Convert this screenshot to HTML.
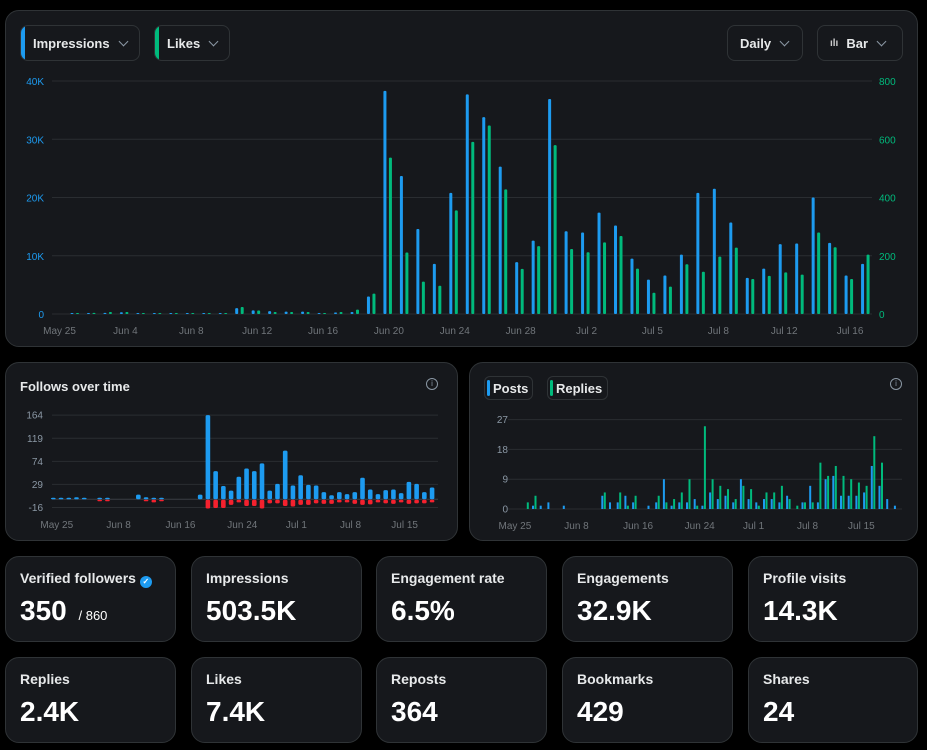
<!DOCTYPE html>
<html><head><meta charset="utf-8">
<style>
*{box-sizing:border-box;margin:0;padding:0}
body{width:927px;height:750px;background:#000;font-family:"Liberation Sans",sans-serif;color:#e7e9ea;position:relative;overflow:hidden}
.card{position:absolute;background:#16181c;border:1px solid #2f3336;border-radius:14px}
.btn{position:absolute;height:36px;border:1px solid #2f3336;border-radius:8px;font-size:13px;font-weight:bold;color:#e7e9ea;display:flex;align-items:center;padding-left:12px;overflow:hidden}
.btn .bar{position:absolute;left:0;top:0;bottom:0;width:4px;border-radius:8px 0 0 8px}
.chev{display:inline-block;width:7px;height:7px;border-right:1.2px solid #8b98a5;border-bottom:1.2px solid #8b98a5;transform:rotate(45deg);margin-left:10px;margin-top:-4px}
.stat .lab{position:absolute;left:14px;top:13px;font-size:14px;font-weight:bold;color:#e7e9ea}
.stat .val{position:absolute;left:14px;top:38px;font-size:28px;font-weight:bold;color:#fff}
.tb{position:absolute;height:24px;border:1px solid #2f3336;border-radius:6px;font-size:13px;font-weight:bold;padding-left:8px;display:flex;align-items:center}
.tb .bar{position:absolute;left:2px;top:3px;bottom:3px;width:3px;border-radius:2px}
svg{position:absolute;left:0;top:0}
</style></head><body>
<div class="card" style="left:5px;top:10px;width:913px;height:337px"></div>
<div class="card" style="left:5px;top:362px;width:453px;height:179px"></div>
<div class="card" style="left:469px;top:362px;width:449px;height:179px"></div>

<div class="btn" style="left:20px;top:25px;width:120px"><span class="bar" style="background:#1d9bf0"></span>Impressions<span class="chev"></span></div>
<div class="btn" style="left:154px;top:25px;width:76px"><span class="bar" style="background:#00ba7c"></span>Likes<span class="chev"></span></div>
<div class="btn" style="left:727px;top:25px;width:76px">Daily<span class="chev"></span></div>
<div class="btn" style="left:817px;top:25px;width:86px"><span style="font-size:10px;color:#ccc;margin-right:8px">ılı</span>Bar<span class="chev"></span></div>

<div style="position:absolute;left:20px;top:379px;font-size:13px;font-weight:bold">Follows over time</div>
<div style="position:absolute;left:426px;top:378px;width:12px;height:12px;border:1px solid #8b98a5;border-radius:50%;font-size:8px;color:#8b98a5;text-align:center;line-height:10px">i</div>
<div style="position:absolute;left:890px;top:378px;width:12px;height:12px;border:1px solid #8b98a5;border-radius:50%;font-size:8px;color:#8b98a5;text-align:center;line-height:10px">i</div>
<div class="tb" style="left:484px;top:376px;width:49px"><span class="bar" style="background:#1d9bf0"></span>Posts</div>
<div class="tb" style="left:547px;top:376px;width:61px"><span class="bar" style="background:#00ba7c"></span>Replies</div>

<div class="card stat" style="left:5px;top:556px;width:171px;height:86px"><div class="lab">Verified followers <span style="display:inline-block;width:12px;height:12px;border-radius:50%;background:#1d9bf0;color:#fff;font-size:8px;text-align:center;line-height:12px;vertical-align:-1px">✓</span></div><div class="val">350 <span style="font-size:13px;font-weight:normal;margin-left:4px">/ 860</span></div></div>
<div class="card stat" style="left:191px;top:556px;width:171px;height:86px"><div class="lab">Impressions</div><div class="val">503.5K</div></div>
<div class="card stat" style="left:376px;top:556px;width:171px;height:86px"><div class="lab">Engagement rate</div><div class="val">6.5%</div></div>
<div class="card stat" style="left:562px;top:556px;width:171px;height:86px"><div class="lab">Engagements</div><div class="val">32.9K</div></div>
<div class="card stat" style="left:748px;top:556px;width:170px;height:86px"><div class="lab">Profile visits</div><div class="val">14.3K</div></div>
<div class="card stat" style="left:5px;top:657px;width:171px;height:86px"><div class="lab">Replies</div><div class="val">2.4K</div></div>
<div class="card stat" style="left:191px;top:657px;width:171px;height:86px"><div class="lab">Likes</div><div class="val">7.4K</div></div>
<div class="card stat" style="left:376px;top:657px;width:171px;height:86px"><div class="lab">Reposts</div><div class="val">364</div></div>
<div class="card stat" style="left:562px;top:657px;width:171px;height:86px"><div class="lab">Bookmarks</div><div class="val">429</div></div>
<div class="card stat" style="left:748px;top:657px;width:170px;height:86px"><div class="lab">Shares</div><div class="val">24</div></div>

<svg id="chart" width="927" height="750"></svg>
<script>
// Main chart data
const impressions=[100,150,200,300,100,80,100,100,100,50,1000,630,500,400,400,150,250,350,3000,38300,23700,14600,8600,20800,37700,33800,25300,8900,12600,36900,14200,14000,17400,15200,9500,5900,6600,10200,20800,21500,15700,6200,7800,12000,12100,20000,12200,6600,8600];
const likes=[2,4,7,7,2,3,3,2,1,1,24,12,7,7,7,2,7,15,70,537,211,111,97,356,591,647,428,155,233,580,223,212,246,268,156,73,94,171,145,197,228,120,131,143,135,280,229,120,204];
const mainTickIdx=[-1,3,7,11,15,19,23,27,31,35,39,43,47];
const mainTickLabels=["May 25","Jun 4","Jun 8","Jun 12","Jun 16","Jun 20","Jun 24","Jun 28","Jul 2","Jul 5","Jul 8","Jul 12","Jul 16"];
const leftTicks=[0,10000,20000,30000,40000];
const leftTickLabels=["0","10K","20K","30K","40K"];
const rightTicks=[0,200,400,600,800];
// Follows data
const followsGained=[0.5,2,2,4,3,0,1,0.5,0,0,0,9,4,1,0.5,0,0,0,0,9,164,55,26,17,44,60,55,70,17,30,95,27,47,28,27,14,8,14,10,14,42,19,10,18,19,12,34,30,14,23];
const followsLost=[0,0,0,0,0,0,1,1,0,0,0,0,2,5,1,0,0,0,0,0,17,16,16,10,5,12,12,17,7,7,12,13,10,10,7,8,8,5,5,8,10,9,5,7,8,5,8,7,7,5];
const followsTicks=[164,119,74,29,-16];
const followsXIdx=[0,8,16,24,31,38,45];
const followsXLabels=["May 25","Jun 8","Jun 16","Jun 24","Jul 1","Jul 8","Jul 15"];
// Posts / replies data
const posts=[0,1,1,2,0,1,0,0,0,0,4,2,2,4,2,0,1,2,9,1,2,2,3,1,5,3,4,2,9,3,2,3,3,2,4,0,2,7,2,9,10,4,4,4,5,13,7,3,1];
const replies=[2,4,0,0,0,0,0,0,0,0,5,0,5,1,4,0,0,4,2,3,5,9,1,25,9,7,6,3,7,6,1,5,5,7,3,1,2,2,14,10,13,10,9,8,7,22,14,0,0];
const postsTicks=[0,9,18,27];
const postsXIdx=[-2,6,14,22,29,36,43];
const postsXLabels=["May 25","Jun 8","Jun 16","Jun 24","Jul 1","Jul 8","Jul 15"];

const svg=document.getElementById('chart');
const NS='http://www.w3.org/2000/svg';
function mk(tag,attrs,parent){const e=document.createElementNS(NS,tag);for(const k in attrs)e.setAttribute(k,attrs[k]);(parent||svg).appendChild(e);return e;}
function txt(x,y,s,fill,anchor,size){const t=mk('text',{x:x,y:y,fill:fill,'text-anchor':anchor,'font-size':size||11,'font-family':'Liberation Sans, sans-serif'});t.textContent=s;return t;}

// main axes
const xMain=i=>72+i*16.47;
const yL=v=>314-v/40000*233;
const yR=v=>314-v/800*233;
leftTicks.forEach((v,k)=>{
 const l=mk('line',{x1:52,x2:872,y1:yL(v),y2:yL(v),stroke:'#2a2d31','stroke-width':1});
 
 
 const t=txt(44,yL(v)+4,leftTickLabels[k],'#1d9bf0','end',10);
 
 
});
rightTicks.forEach(v=>{
 const t=txt(879,yR(v)+4,String(v),'#00ba7c','start',10);
 
 
});
mainTickIdx.forEach((ix,k)=>{
 const t=txt(xMain(ix)+4,334,mainTickLabels[k],'#71767b','middle',10);
 
 
});
impressions.forEach((v,i)=>{
 const y=yL(v);const h=Math.max(314-y,1);
 const r=mk('rect',{x:xMain(i)-1.5,y:314-h,width:3,height:h,rx:1,fill:'#1d9bf0'});
 
 
});
likes.forEach((v,i)=>{
 const y=yR(v);const h=Math.max(314-y,1);
 const r=mk('rect',{x:xMain(i)+4,y:314-h,width:3,height:h,rx:1,fill:'#00ba7c'});
 
 
});

// follows chart
const xF=i=>53.3+i*7.73;
const yF=v=>499.3-v*0.513;
followsTicks.forEach(v=>{
 const l=mk('line',{x1:52,x2:438,y1:yF(v),y2:yF(v),stroke:'#2a2d31','stroke-width':1});
 
 
 const t=txt(43,yF(v)+3.5,String(v),'#8b98a5','end',10);
 
 
});
mk('line',{x1:52,x2:438,y1:499.3,y2:499.3,stroke:'#3a3e44','stroke-width':1});
followsXIdx.forEach((ix,k)=>{
 const t=txt(xF(ix)+3.5,528,followsXLabels[k],'#71767b','middle',10);
 
 
});
followsGained.forEach((v,i)=>{
 if(v<=0)return;
 const h=Math.max(499.3-yF(v),1.5);
 const r=mk('rect',{x:xF(i)-2.3,y:499.3-h,width:4.6,height:h,rx:1.5,fill:'#1d9bf0'});
 
 
});
followsLost.forEach((v,i)=>{
 if(v<=0)return;
 const h=Math.max(yF(-v)-499.3,1.5);
 const r=mk('rect',{x:xF(i)-2.3,y:499.8,width:4.6,height:h,rx:1.5,fill:'#f4212e'});
 
 
});

// posts / replies chart
const xP=i=>525.3+i*7.7;
const yP=v=>509-v*3.31;
postsTicks.forEach(v=>{
 const l=mk('line',{x1:508,x2:902,y1:yP(v),y2:yP(v),stroke:'#2a2d31','stroke-width':1});
 
 
 const t=txt(509-0,yP(v)+3.5,String(v),'#8b98a5','end',10);
 t.setAttribute('x',510-2);
 
 
});
postsXIdx.forEach((ix,k)=>{
 const t=txt(xP(ix)+5,529,postsXLabels[k],'#71767b','middle',10);
 
 
});
posts.forEach((v,i)=>{
 if(v<=0)return;
 const h=509-yP(v);
 const r=mk('rect',{x:xP(i)-1,y:509-h,width:2,height:h,fill:'#1d9bf0'});
 
 
});
replies.forEach((v,i)=>{
 if(v<=0)return;
 const h=509-yP(v);
 const r=mk('rect',{x:xP(i)+1.5,y:509-h,width:2,height:h,fill:'#00ba7c'});
 
 
});
</script>
</body></html>
